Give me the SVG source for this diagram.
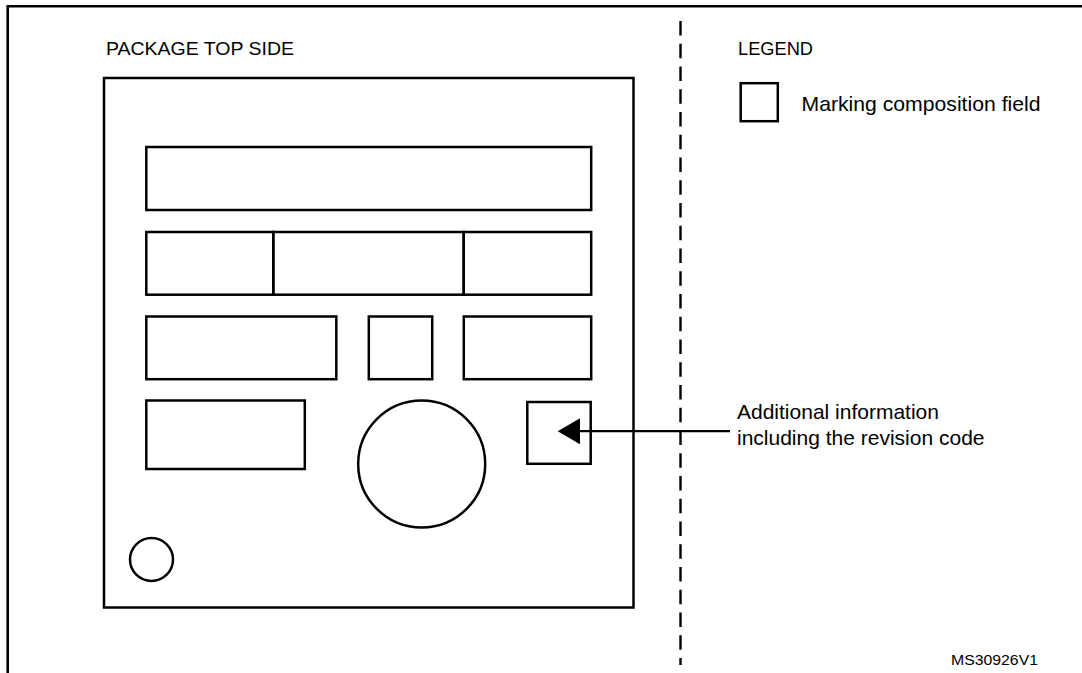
<svg xmlns="http://www.w3.org/2000/svg" width="1082" height="673" viewBox="0 0 1082 673">
<defs>
<style>
.s{fill:none;stroke:#000;stroke-width:2.5}
.t{font-family:"Liberation Sans",Arial,sans-serif;fill:#000}
</style>
</defs>
<rect width="1082" height="673" fill="#fff"/>
<g id="frame">
<path d="M7.7 673 V6.3 H1082" fill="none" stroke="#000" stroke-width="2.6"/>
</g>
<g id="divider">
<line x1="680.5" y1="21" x2="680.5" y2="665" stroke="#000" stroke-width="2.4" stroke-dasharray="14.5 8.25"/>
</g>
<text class="t" x="106" y="55" font-size="19" textLength="188" lengthAdjust="spacingAndGlyphs">PACKAGE TOP SIDE</text>
<text class="t" x="738" y="55" font-size="19" textLength="75" lengthAdjust="spacingAndGlyphs">LEGEND</text>
<g id="package">
<rect class="s" x="104" y="78" width="529.5" height="529.5" stroke-width="2.8"/>
</g>
<g id="field-row1"><rect class="s" x="146.3" y="147" width="444.9" height="63"/></g>
<g id="field-row2a"><rect class="s" x="146.3" y="232" width="127" height="62.7"/></g>
<g id="field-row2b"><rect class="s" x="273.3" y="232" width="190.4" height="62.7"/></g>
<g id="field-row2c"><rect class="s" x="463.7" y="232" width="127.5" height="62.7"/></g>
<g id="field-row3a"><rect class="s" x="146.3" y="316.5" width="190" height="62.7"/></g>
<g id="field-row3b"><rect class="s" x="368.8" y="316.5" width="63.4" height="62.7"/></g>
<g id="field-row3c"><rect class="s" x="463.8" y="316.5" width="127.4" height="62.7"/></g>
<g id="field-row4a"><rect class="s" x="146.3" y="400.5" width="158.5" height="68.5"/></g>
<g id="field-circle"><circle class="s" cx="421.7" cy="464" r="63.5"/></g>
<g id="field-rev"><rect class="s" x="527.3" y="402" width="63.4" height="61.8"/></g>
<g id="pin1"><circle class="s" cx="151.5" cy="559.5" r="21.5"/></g>
<g id="legend-box"><rect class="s" x="740.7" y="83.2" width="37.1" height="38"/></g>
<text class="t" x="801.5" y="110.5" font-size="21" textLength="239" lengthAdjust="spacingAndGlyphs">Marking composition field</text>
<g id="connectors">
<line x1="578" y1="431.2" x2="730" y2="431.2" stroke="#000" stroke-width="2.3"/>
<polygon points="557.7,431.2 580,418.3 580,444.3" fill="#000"/>
</g>
<text class="t" font-size="21"><tspan x="737" y="419">Additional information</tspan><tspan x="737" y="444.5">including the revision code</tspan></text>
<text class="t" x="951" y="664.5" font-size="14.5" textLength="87" lengthAdjust="spacingAndGlyphs">MS30926V1</text>
</svg>
